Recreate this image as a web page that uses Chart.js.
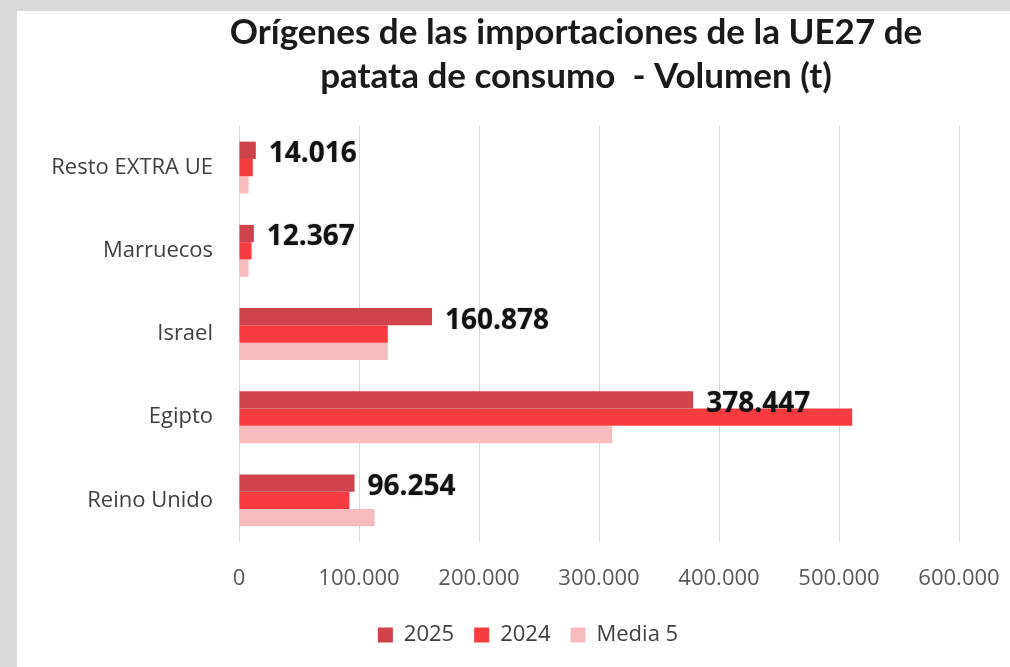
<!DOCTYPE html>
<html><head><meta charset="utf-8">
<script src="https://cdn.jsdelivr.net/npm/chart.js@4"></script>
<style>
html,body{margin:0;padding:0;width:1010px;height:667px;overflow:hidden;background:#d9d9d9;}
#panel{position:absolute;left:17px;top:11px;width:993px;height:656px;background:#fff;overflow:hidden;}
#c{position:absolute;left:0;top:0;}
</style></head><body>
<div id="panel"><canvas id="c" width="993" height="656"></canvas></div>
<script>
const titleLines = ['Orígenes de las importaciones de la UE27 de', 'patata de consumo  - Volumen (t)'];
const categories = ['Resto EXTRA UE', 'Marruecos', 'Israel', 'Egipto', 'Reino Unido'];
const seriesNames = ['2025', '2024', 'Media 5'];
const values2025 = [14016, 12367, 160878, 378447, 96254];
const values2024 = [11500, 10500, 124000, 511000, 92000];
const valuesMedia5 = [8000, 8000, 124000, 311000, 113000];
const xTicks = [0, 100000, 200000, 300000, 400000, 500000, 600000];

const colors = ['#d0434d', '#f63c3f', '#f9bcbe'];
const fmt = v => String(Math.round(v)).replace(/\B(?=(\d{3})+(?!\d))/g, '.');

const titlePlugin = {
  id: 'customTitle',
  afterDraw(chart) {
    const ctx = chart.ctx;
    ctx.save();
    ctx.font = 'bold 35px Lato';
    ctx.fillStyle = '#1a1a1a';
    ctx.textAlign = 'center';
    ctx.textBaseline = 'alphabetic';
    ctx.fillText(titleLines[0], 559, 33);
    ctx.fillText(titleLines[1], 559, 77);
    ctx.restore();
  }
};

const legendShift = {
  id: 'legendShift',
  afterLayout(chart) {
    const l = chart.legend;
    if (l) { l.left += 40; l.right += 40; }
  }
};

const labelPlugin = {
  id: 'valueLabels',
  afterDatasetsDraw(chart) {
    const ctx = chart.ctx;
    const meta = chart.getDatasetMeta(0);
    ctx.save();
    ctx.font = 'bold 28px "Open Sans"';
    ctx.fillStyle = '#111';
    ctx.textAlign = 'left';
    ctx.textBaseline = 'alphabetic';
    ctx.shadowColor = 'rgba(0,0,0,0.35)';
    ctx.shadowBlur = 2;
    meta.data.forEach((bar, i) => {
      ctx.fillText(fmt(values2025[i]), bar.x + 13, bar.y + 12);
    });
    ctx.restore();
  }
};

new Chart(document.getElementById('c'), {
  type: 'bar',
  data: {
    labels: categories,
    datasets: [
      { label: seriesNames[0], data: values2025, backgroundColor: colors[0] },
      { label: seriesNames[1], data: values2024, backgroundColor: colors[1] },
      { label: seriesNames[2], data: valuesMedia5, backgroundColor: colors[2] }
    ]
  },
  options: {
    responsive: false,
    animation: false,
    events: [],
    indexAxis: 'y',
    categoryPercentage: 0.624,
    barPercentage: 1,
    layout: { padding: { top: 115, right: 51, left: 0, bottom: 11 } },
    scales: {
      x: {
        min: 0, max: 600000,
        afterBuildTicks: s => { s.ticks = xTicks.map(v => ({ value: v })); },
        afterFit: s => { s.height = 62; s.paddingLeft = 0; s.paddingRight = 0; },
        grid: { color: '#d9d9d9', lineWidth: 1, drawTicks: false },
        border: { display: false },
        ticks: {
          padding: 24,
          color: '#595959',
          font: { family: 'Open Sans', size: 22 },
          callback: v => fmt(v),
          maxRotation: 0
        }
      },
      y: {
        afterFit: s => { s.width = 222; },
        grid: { display: false },
        border: { display: false },
        ticks: {
          padding: 18,
          color: '#404040',
          font: { family: 'Open Sans', size: 22 }
        }
      }
    },
    plugins: {
      title: { display: false },
      tooltip: { enabled: false },
      legend: {
        position: 'bottom',
        labels: {
          boxWidth: 15,
          boxHeight: 15,
          padding: 20,
          color: '#404040',
          font: { family: 'Open Sans', size: 22 }
        }
      }
    }
  },
  plugins: [titlePlugin, legendShift, labelPlugin]
});
</script>
</body></html>
